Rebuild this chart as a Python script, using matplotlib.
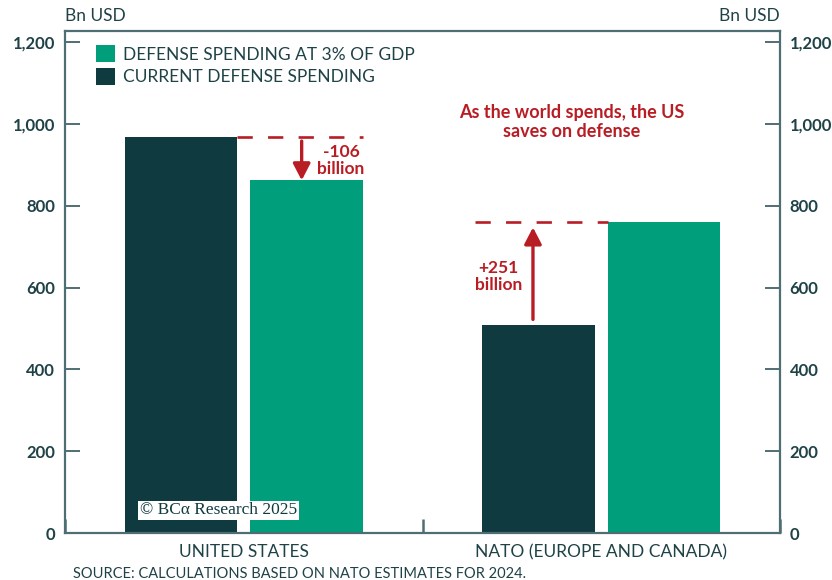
import matplotlib
matplotlib.use("Agg")
import matplotlib.pyplot as plt
from matplotlib.patches import Patch

# Defense spending, Bn USD
categories = ["UNITED STATES", "NATO (EUROPE AND CANADA)"]
current_spending = [968, 508]
spending_at_3pct = [862, 759]
yticks = [0, 200, 400, 600, 800, 1000, 1200]

DARK = "#0F3A40"
GREEN = "#009E7A"
RED = "#B81D24"
SPINE = "#4F6E73"
TEXT = "#1F4247"

plt.rcParams["font.family"] = ["Lato", "DejaVu Sans"]
plt.rcParams["lines.scale_dashes"] = False

fig = plt.figure(figsize=(8.32, 5.8), dpi=100)
ax = fig.add_axes([65 / 832, 47 / 580, 715 / 832, 502 / 580])

x = list(range(len(categories)))
w = 0.315
off = 0.175
ax.bar([i - off for i in x], current_spending, width=w, color=DARK, zorder=2)
ax.bar([i + off for i in x], spending_at_3pct, width=w, color=GREEN, zorder=2)

ax.set_xlim(-0.5, 1.5)
ax.set_ylim(0, 1227)

# spines and ticks
for s in ax.spines.values():
    s.set_color(SPINE)
    s.set_linewidth(1.6)
ax.set_yticks(yticks)
ax.set_yticklabels([f"{v:,}" for v in yticks])
ax.tick_params(axis="y", direction="in", length=11, width=1.4, color=SPINE,
               labelsize=12, labelcolor=TEXT, pad=7,
               left=True, right=True, labelleft=True, labelright=True)
for lab in ax.get_yticklabels():
    lab.set_fontweight("bold")
ax.set_xticks(x)
ax.set_xticklabels(categories)
ax.set_xticks([-0.5, 0.5, 1.5], minor=True)
ax.tick_params(axis="x", which="major", length=0, labelsize=12.5, labelcolor=TEXT, pad=8)
ax.tick_params(axis="x", which="minor", direction="in", length=10, width=1.8, color=SPINE)

# axis unit labels
fig.text(65 / 832, 1 - 16 / 580, "Bn USD", ha="left", va="center", fontsize=12.5, color=TEXT)
fig.text(780 / 832, 1 - 16 / 580, "Bn USD", ha="right", va="center", fontsize=12.5, color=TEXT)

# legend
handles = [Patch(facecolor=GREEN, label="DEFENSE SPENDING AT 3% OF GDP"),
           Patch(facecolor=DARK, label="CURRENT DEFENSE SPENDING")]
leg = ax.legend(handles=handles, loc="upper left", bbox_to_anchor=(0.033, 0.985),
                frameon=False, fontsize=12.5, handlelength=1.1, handleheight=1.1,
                handletextpad=0.5, labelspacing=0.3, borderaxespad=0)
for t in leg.get_texts():
    t.set_color(TEXT)

# gap markers
us_gap = spending_at_3pct[0] - current_spending[0]
nato_gap = spending_at_3pct[1] - current_spending[1]

ax.plot([0 - off + w / 2, 0 + off + w / 2], [current_spending[0]] * 2,
        color=RED, lw=1.9, linestyle=(0, (11, 11)), zorder=3)
ax.plot([1 - off - w / 2 - 0.02, 1 + off - w / 2], [spending_at_3pct[1]] * 2,
        color=RED, lw=1.9, linestyle=(0, (11, 11)), zorder=3)

arrow = dict(arrowstyle="-|>,head_length=0.5,head_width=0.26", color=RED,
             lw=2.4, mutation_scale=20, shrinkA=0, shrinkB=0)
ax.annotate("", xy=(0.162, spending_at_3pct[0]), xytext=(0.162, current_spending[0] - 10),
            arrowprops=arrow, zorder=4)
ax.annotate("", xy=(0.809, spending_at_3pct[1] - 12), xytext=(0.809, current_spending[1] + 14),
            arrowprops=arrow, zorder=4)

ax.text(0.272, 910, f"{us_gap:+d}\nbillion".replace("+", ""), ha="center", va="center",
        fontsize=12.5, fontweight="bold", color=RED, linespacing=1.1)
ax.text(0.713, 627, f"{nato_gap:+d}\nbillion", ha="center", va="center",
        fontsize=12.5, fontweight="bold", color=RED, linespacing=1.1)
ax.text(0.918, 1005, "As the world spends, the US\nsaves on defense", ha="center",
        va="center", fontsize=13, fontweight="bold", color=RED, linespacing=1.1)

# copyright stamp
ax.text(0.105, 0.045, "© BCα Research 2025", transform=ax.transAxes, ha="left",
        va="center", fontsize=12.5, color=DARK, family=["Liberation Serif", "DejaVu Serif"],
        bbox=dict(facecolor="white", edgecolor="none", pad=1.2), zorder=5)

# source note
fig.text(73 / 832, 1 - 574 / 580, "SOURCE: CALCULATIONS BASED ON NATO ESTIMATES FOR 2024.",
         ha="left", va="center", fontsize=10.5, color=TEXT)

fig.savefig("out.png", dpi=100)
